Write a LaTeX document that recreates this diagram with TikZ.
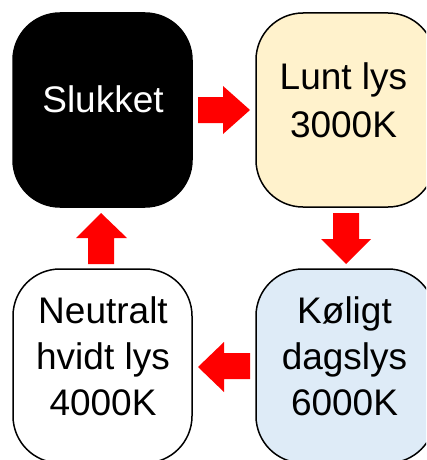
\documentclass[tikz,border=0pt]{standalone}
\usepackage{fontspec}
\setmainfont{Liberation Sans}
\definecolor{luntfill}{HTML}{FFF2CC}
\definecolor{koligfill}{HTML}{DEEBF7}
\begin{document}
\begin{tikzpicture}[x=1pt,y=-1pt,
  box/.style={draw=black, line width=1.5pt, rounded corners=47pt,
    minimum width=179pt, minimum height=194pt, inner sep=0pt},
  lbl/.style={anchor=base, inner sep=0pt, font=\fontsize{37}{46}\selectfont},
  blockarrow/.style={fill=red, draw=none}]
\useasboundingbox (0,0) rectangle (426,460);
\clip (0,0) rectangle (426,460);
\node[box, fill=black] (sluk) at (102.5,110) {};
\node[box, fill=luntfill] (lunt) at (345.5,110) {};
\node[box, fill=koligfill] (kolig) at (345.5,366) {};
\node[box, fill=white] (neutral) at (102.5,366) {};
% texts
\node[lbl, text=white] (sluk1) at (103,112) {Slukket};
\node[lbl] (lunt1) at (343.5,89) {Lunt lys};
\node[lbl] (lunt2) at (343.5,137) {3000K};
\node[lbl] (neut1) at (103,323) {Neutralt};
\node[lbl] (neut2) at (103,369) {hvidt lys};
\node[lbl] (neut3) at (103,415) {4000K};
\node[lbl] (kol1) at (344.5,323) {Køligt};
\node[lbl] (kol2) at (344.5,369) {dagslys};
\node[lbl] (kol3) at (344.5,415) {6000K};
% block arrows
\fill[blockarrow] (198,97) -- (223,97) -- (223,86) -- (250,110) -- (223,134) -- (223,123) -- (198,123) -- cycle;
\fill[blockarrow] (333,213) -- (359,213) -- (359,239) -- (371,239) -- (346,264) -- (321,239) -- (333,239) -- cycle;
\fill[blockarrow] (250,353) -- (224,353) -- (224,342) -- (198,367) -- (224,392) -- (224,379) -- (250,379) -- cycle;
\fill[blockarrow] (88,264) -- (114,264) -- (114,238) -- (127,238) -- (101,213) -- (76,238) -- (88,238) -- cycle;
\end{tikzpicture}
\end{document}
